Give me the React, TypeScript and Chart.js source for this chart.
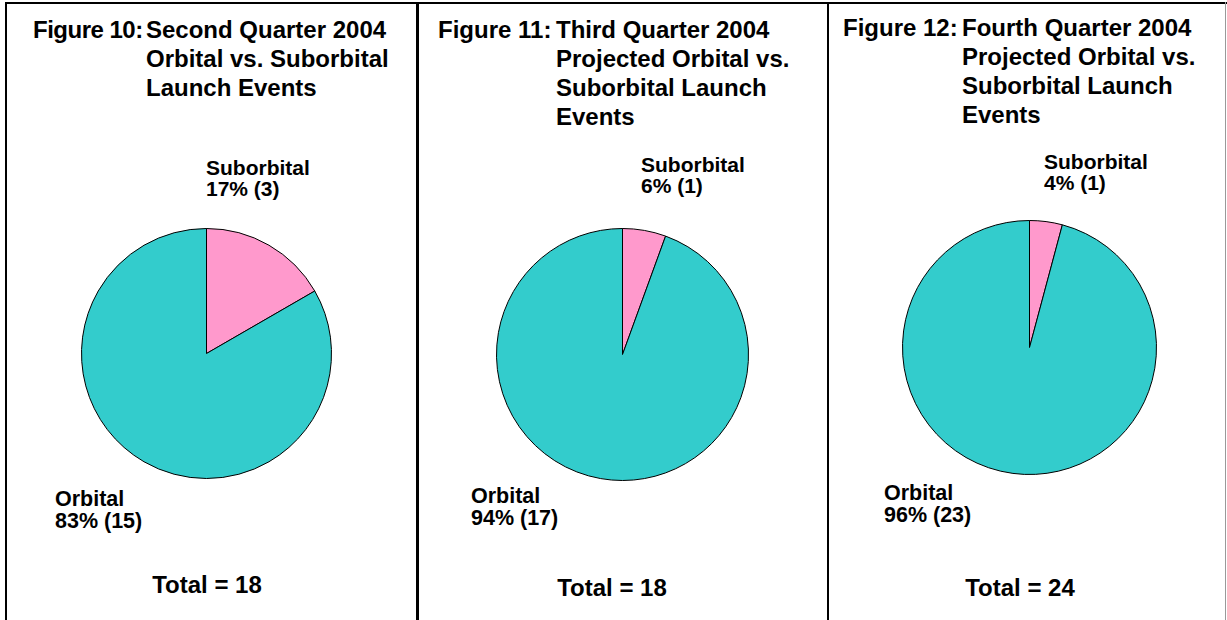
import React, { useEffect, useRef } from "react";
import { Chart, registerables } from "chart.js";

Chart.register(...registerables);

// ---- Data ----
const categories = ["Suborbital", "Orbital"];
const q2Values = [3, 15];
const q3Values = [1, 17];
const q4Values = [1, 23];
const sliceColors = ["#FF99CC", "#33CCCC"];

const titleHeads = ["Figure 10:", "Figure 11:", "Figure 12:"];
const q2TitleLines = ["Second Quarter 2004", "Orbital vs. Suborbital", "Launch Events"];
const q3TitleLines = ["Third Quarter 2004", "Projected Orbital vs.", "Suborbital Launch", "Events"];
const q4TitleLines = ["Fourth Quarter 2004", "Projected Orbital vs.", "Suborbital Launch", "Events"];

// ---- Layout (positions only) ----
const FONT = '"Liberation Sans", Arial, Helvetica, sans-serif';

type Layout = {
  pieLeft: number; pieTop: number; pieSize: number;
  titleLeft: number; titleTop: number; titleIndent: number; headSpacing: number;
  subLeft: number; subTop: number;
  orbLeft: number; orbTop: number;
  totalCx: number; totalTop: number;
};

const layouts: Layout[] = [
  { pieLeft: 81, pieTop: 228, pieSize: 251, titleLeft: 33, titleTop: 15, titleIndent: 113, headSpacing: -0.5, subLeft: 206, subTop: 157, orbLeft: 55, orbTop: 488, totalCx: 207, totalTop: 570 },
  { pieLeft: 496, pieTop: 228, pieSize: 253, titleLeft: 438, titleTop: 15, titleIndent: 118, headSpacing: 0, subLeft: 641, subTop: 154, orbLeft: 471, orbTop: 485, totalCx: 612, totalTop: 573 },
  { pieLeft: 902, pieTop: 220, pieSize: 255, titleLeft: 843, titleTop: 13, titleIndent: 119, headSpacing: 0, subLeft: 1044, subTop: 151, orbLeft: 884, orbTop: 482, totalCx: 1020, totalTop: 573 },
];

function PieCanvas({ values, left, top, size }: { values: number[]; left: number; top: number; size: number }) {
  const ref = useRef<HTMLCanvasElement>(null);
  useEffect(() => {
    const chart = new Chart(ref.current as HTMLCanvasElement, {
      type: "pie",
      data: {
        labels: categories,
        datasets: [
          {
            data: values,
            backgroundColor: sliceColors,
            borderColor: "#000000",
            borderWidth: 1,
            hoverOffset: 0,
          },
        ],
      },
      options: {
        responsive: false,
        animation: false,
        events: [],
        layout: { padding: 0 },
        plugins: { legend: { display: false }, tooltip: { enabled: false } },
      },
    });
    return () => chart.destroy();
  }, [values]);
  return (
    <canvas
      ref={ref}
      width={size}
      height={size}
      style={{ position: "absolute", left, top, width: size, height: size }}
    />
  );
}

function pct(v: number, vals: number[]) {
  const total = vals.reduce((a, b) => a + b, 0);
  return Math.round((v / total) * 100);
}

function Panel({ values, head, lines, lay }: { values: number[]; head: string; lines: string[]; lay: Layout }) {
  const total = values.reduce((a, b) => a + b, 0);
  const textBase: React.CSSProperties = { position: "absolute", fontFamily: FONT, fontWeight: "bold", color: "#000", whiteSpace: "nowrap" };
  return (
    <>
      <div style={{ ...textBase, left: lay.titleLeft, top: lay.titleTop, fontSize: 24, lineHeight: "29px", display: "flex" }}>
        <div style={{ width: lay.titleIndent, letterSpacing: lay.headSpacing }}>{head}</div>
        <div>
          {lines.map((l, i) => (
            <div key={i}>{l}</div>
          ))}
        </div>
      </div>
      <PieCanvas values={values} left={lay.pieLeft} top={lay.pieTop} size={lay.pieSize} />
      <div style={{ ...textBase, left: lay.subLeft, top: lay.subTop, fontSize: 21, lineHeight: "21px" }}>
        <div>{categories[0]}</div>
        <div>{`${pct(values[0], values)}% (${values[0]})`}</div>
      </div>
      <div style={{ ...textBase, left: lay.orbLeft, top: lay.orbTop, fontSize: 21.5, lineHeight: "22px" }}>
        <div>{categories[1]}</div>
        <div>{`${pct(values[1], values)}% (${values[1]})`}</div>
      </div>
      <div style={{ ...textBase, left: lay.totalCx - 100, width: 200, textAlign: "center", top: lay.totalTop, fontSize: 24, lineHeight: "29px" }}>
        {`Total = ${total}`}
      </div>
    </>
  );
}

export default function App() {
  const line = (left: number, top: number, width: number, height: number, color = "#000") => (
    <div style={{ position: "absolute", left, top, width, height, background: color }} />
  );
  return (
    <div style={{ position: "absolute", left: 0, top: 0, width: 1227, height: 620, overflow: "hidden", background: "#fff" }}>
      {line(5, 2, 1222, 2)}
      {line(5, 2, 2, 618)}
      {line(416, 2, 3, 618)}
      {line(827, 2, 2, 618)}
      {line(1225, 2, 1, 618, "#999")}
      <Panel values={q2Values} head={titleHeads[0]} lines={q2TitleLines} lay={layouts[0]} />
      <Panel values={q3Values} head={titleHeads[1]} lines={q3TitleLines} lay={layouts[1]} />
      <Panel values={q4Values} head={titleHeads[2]} lines={q4TitleLines} lay={layouts[2]} />
    </div>
  );
}
